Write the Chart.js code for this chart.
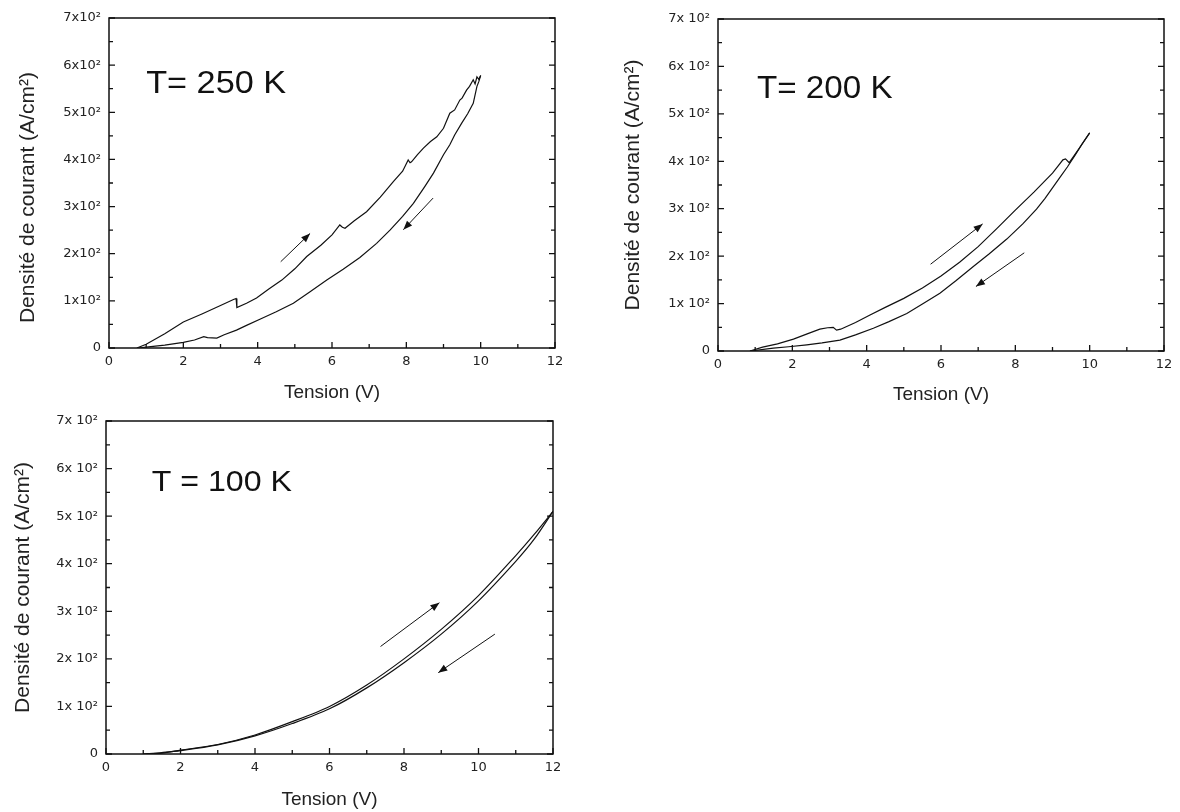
<!DOCTYPE html>
<html lang="fr">
<head>
<meta charset="UTF-8">
<title>Densité de courant en fonction de la tension</title>
<script src="https://cdn.jsdelivr.net/npm/chart.js"></script>
<style>
    body {
        margin: 0;
        background: #fff;
        width: 1180px;
        height: 812px;
        overflow: hidden;
        position: relative;
    }
    .panel {
        position: absolute;
    }
</style>
</head>
<body>

<div class="panel" style="left:0;top:0;width:580px;height:404px"><canvas id="c250"></canvas></div>
<div class="panel" style="left:600px;top:0;width:580px;height:406px"><canvas id="c200"></canvas></div>
<div class="panel" style="left:0;top:404px;width:580px;height:407px"><canvas id="c100"></canvas></div>

<script>
    // T = 250 K : montée (aller) puis retour
    const fwd250V = [0.75, 1.0, 1.5, 2.0, 2.5, 3.0, 3.35, 3.42, 3.44, 3.7, 3.97, 4.3, 4.65, 5.0, 5.32, 5.7, 6.0, 6.21, 6.28, 6.35, 6.6, 6.93, 7.3, 7.65, 7.9, 8.05, 8.1, 8.14, 8.3, 8.46, 8.65, 8.82, 9.0, 9.17, 9.3, 9.44, 9.5, 9.62, 9.7, 9.8, 9.85, 9.9, 9.95, 10.0];
    const fwd250J = [0, 8, 30, 55, 72, 90, 103, 105, 86, 95, 106, 125, 144, 168, 194, 218, 240, 261, 256, 254, 270, 289, 320, 353, 375, 399, 393, 395, 410, 424, 438, 448, 466, 498, 505, 526, 530, 547, 555, 569, 560, 575, 570, 578];
    const ret250V = [10.0, 9.95, 9.9, 9.8, 9.65, 9.49, 9.3, 9.17, 9.0, 8.73, 8.5, 8.19, 7.9, 7.56, 7.2, 6.75, 6.3, 5.86, 5.4, 4.96, 4.5, 4.06, 3.7, 3.43, 3.1, 2.9, 2.65, 2.55, 2.3, 2.0, 1.5, 1.0, 0.8];
    const ret250J = [578, 565, 555, 519, 497, 477, 452, 431, 410, 371, 343, 307, 279, 250, 222, 192, 167, 144, 119, 95, 77, 61, 48, 38, 28, 21, 22, 24, 17, 12, 6, 2, 0];

    // T = 200 K
    const fwd200V = [0.86, 1.2, 1.6, 2.03, 2.4, 2.74, 2.95, 3.1, 3.19, 3.3, 3.7, 4.09, 4.5, 5.0, 5.5, 6.0, 6.5, 7.0, 7.5, 8.0, 8.5, 9.0, 9.28, 9.35, 9.45, 9.7, 10.0];
    const fwd200J = [0, 8, 15, 25, 36, 46, 49, 50, 44, 46, 60, 76, 92, 111, 133, 158, 187, 220, 258, 297, 335, 375, 403, 405, 397, 425, 460];
    const ret200V = [10.0, 9.8, 9.6, 9.4, 9.2, 9.0, 8.8, 8.57, 8.2, 7.77, 7.3, 6.87, 6.4, 5.97, 5.5, 5.08, 4.6, 4.18, 3.7, 3.28, 2.8, 2.39, 1.9, 1.49, 0.86];
    const ret200J = [460, 437, 412, 388, 366, 344, 322, 299, 268, 236, 205, 178, 148, 122, 99, 79, 62, 48, 34, 23, 17, 13, 9, 6, 0];

    // T = 100 K
    const fwd100V = [1.0, 1.5, 2.0, 3.0, 4.0, 5.0, 6.0, 7.0, 8.0, 9.0, 10.0, 11.0, 11.5, 12.0];
    const fwd100J = [0, 2, 8, 20, 40, 68, 100, 145, 200, 262, 333, 417, 462, 510];
    const ret100V = [12.0, 11.5, 11.0, 10.0, 9.0, 8.0, 7.0, 6.0, 5.0, 4.0, 3.0, 2.0, 1.5, 1.0];
    const ret100J = [510, 452, 405, 322, 252, 192, 139, 95, 64, 38, 19, 7, 3, 0];

    // flèches [V0, J0, V1, J1] (pointe en V1, J1)
    const arrows250 = [[4.62, 183, 5.41, 243], [8.72, 318, 7.92, 251]];
    const arrows200 = [[5.72, 183, 7.12, 268], [8.24, 207, 6.94, 136]];
    const arrows100 = [[7.37, 226, 8.95, 318], [10.44, 252, 8.92, 171]];

    const xMin = 0, xMax = 12, xStep = 2, xMinor = 1;
    const yMin = 0, yMax = 700, yStep = 100, yMinor = 50;

    const tickFont = { family: '"DejaVu Sans", Arial, sans-serif', size: 13 };
    const titleFamily = 'Arial, "Liberation Sans", sans-serif';

    function pts(xs, ys) {
        return xs.map((v, i) => ({ x: v, y: ys[i] }));
    }

    // cadre, graduations intérieures, flèches et étiquette de température
    const framePlugin = {
        id: 'frame',
        afterDatasetsDraw(chart, args, opts) {
            const { ctx, chartArea: a, scales: { x, y } } = chart;
            ctx.save();
            ctx.strokeStyle = '#111';
            ctx.lineWidth = 1.5;
            ctx.strokeRect(a.left, a.top, a.right - a.left, a.bottom - a.top);

            ctx.lineWidth = 1.3;
            ctx.beginPath();
            for (let v = xMin; v <= xMax; v += xMinor) {
                const px = x.getPixelForValue(v);
                const len = v % xStep === 0 ? 6 : 4;
                ctx.moveTo(px, a.bottom);
                ctx.lineTo(px, a.bottom - len);
            }
            for (let v = yMin; v <= yMax; v += yMinor) {
                const py = y.getPixelForValue(v);
                const len = v % yStep === 0 ? 6 : 4;
                ctx.moveTo(a.left, py);
                ctx.lineTo(a.left + len, py);
                ctx.moveTo(a.right, py);
                ctx.lineTo(a.right - len, py);
            }
            ctx.stroke();

            // flèches
            ctx.lineWidth = 1;
            ctx.fillStyle = '#111';
            opts.arrows.forEach(ar => {
                const x0 = x.getPixelForValue(ar[0]), y0 = y.getPixelForValue(ar[1]);
                const x1 = x.getPixelForValue(ar[2]), y1 = y.getPixelForValue(ar[3]);
                const ang = Math.atan2(y1 - y0, x1 - x0);
                ctx.beginPath();
                ctx.moveTo(x0, y0);
                ctx.lineTo(x1, y1);
                ctx.stroke();
                ctx.beginPath();
                ctx.moveTo(x1, y1);
                ctx.lineTo(x1 - 9 * Math.cos(ang) + 3.5 * Math.sin(ang), y1 - 9 * Math.sin(ang) - 3.5 * Math.cos(ang));
                ctx.lineTo(x1 - 9 * Math.cos(ang) - 3.5 * Math.sin(ang), y1 - 9 * Math.sin(ang) + 3.5 * Math.cos(ang));
                ctx.closePath();
                ctx.fill();
            });

            // T = ...  (légèrement élargi comme l'original)
            ctx.translate(x.getPixelForValue(opts.labelAt[0]), y.getPixelForValue(opts.labelAt[1]));
            ctx.scale(1.07, 1);
            ctx.font = opts.labelSize + 'px ' + titleFamily;
            ctx.textBaseline = 'alphabetic';
            ctx.textAlign = 'left';
            ctx.fillText(opts.label, 0, 0);
            ctx.restore();
        }
    };

    function makeChart(id, fwdV, fwdJ, retV, retJ, o) {
        const ctx = document.getElementById(id).getContext('2d');
        return new Chart(ctx, {
            type: 'scatter',
            data: {
                datasets: [{
                    label: 'aller',
                    data: pts(fwdV, fwdJ),
                    showLine: true,
                    borderColor: '#111',
                    borderWidth: 1.2,
                    pointRadius: 0,
                    tension: o.tension
                }, {
                    label: 'retour',
                    data: pts(retV, retJ),
                    showLine: true,
                    borderColor: '#111',
                    borderWidth: 1.2,
                    pointRadius: 0,
                    tension: o.tension
                }]
            },
            options: {
                responsive: true,
                maintainAspectRatio: false,
                animation: false,
                devicePixelRatio: 1,
                layout: { padding: { left: o.padL, top: o.padT, right: o.padR, bottom: 0 } },
                plugins: {
                    legend: { display: false },
                    tooltip: { enabled: false },
                    frame: { arrows: o.arrows, label: o.label, labelAt: o.labelAt, labelSize: o.labelSize }
                },
                scales: {
                    x: {
                        type: 'linear',
                        min: xMin,
                        max: xMax,
                        grid: { display: false, drawTicks: false },
                        border: { display: false },
                        ticks: { stepSize: xStep, color: '#222', font: tickFont, padding: 6, maxRotation: 0 },
                        title: {
                            display: true,
                            text: 'Tension (V)',
                            color: '#222',
                            font: { family: titleFamily, size: 19 },
                            padding: 0
                        },
                        afterFit(scale) { scale.height = o.axisH; }
                    },
                    y: {
                        type: 'linear',
                        min: yMin,
                        max: yMax,
                        grid: { display: false, drawTicks: false },
                        border: { display: false },
                        ticks: {
                            stepSize: yStep,
                            color: '#222',
                            font: tickFont,
                            padding: 8,
                            callback: v => v === 0 ? '0' : (v / 100) + o.sep + '10²'
                        },
                        title: {
                            display: true,
                            text: 'Densité de courant (A/cm²)' + o.titleTail,
                            color: '#222',
                            font: { family: titleFamily, size: 21 },
                            padding: 0
                        },
                        afterFit(scale) { scale.width = o.axisW; }
                    }
                }
            },
            plugins: [framePlugin]
        });
    }

    makeChart('c250', fwd250V, fwd250J, ret250V, ret250J, {
        padL: 16, axisW: 93, padT: 18, padR: 25, axisH: 56, sep: 'x', titleTail: '     ', tension: 0,
        arrows: arrows250, label: 'T= 250 K', labelAt: [1.0, 541], labelSize: 32
    });
    makeChart('c200', fwd200V, fwd200J, ret200V, ret200J, {
        padL: 21, axisW: 97, padT: 19, padR: 16, axisH: 55, sep: 'x ', titleTail: '', tension: 0,
        arrows: arrows200, label: 'T= 200 K', labelAt: [1.05, 533], labelSize: 31
    });
    makeChart('c100', fwd100V, fwd100J, ret100V, ret100J, {
        padL: 11, axisW: 95, padT: 17, padR: 27, axisH: 57, sep: 'x ', titleTail: '', tension: 0.3,
        arrows: arrows100, label: 'T = 100 K', labelAt: [1.23, 553], labelSize: 30
    });
</script>

</body>
</html>
